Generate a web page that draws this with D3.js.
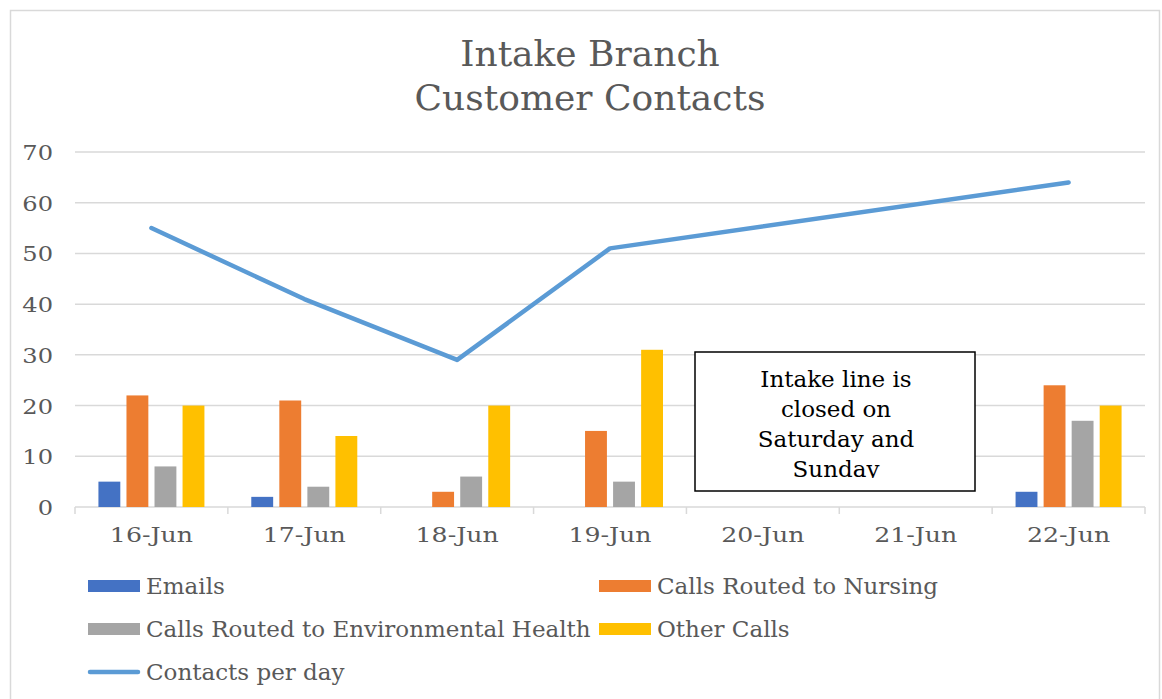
<!DOCTYPE html>
<html><head><meta charset="utf-8">
<script src="https://cdn.jsdelivr.net/npm/d3@7"></script>
<style>body{margin:0;background:#fff}svg{display:block}</style>
</head><body>
<svg id="chart" width="1162" height="699"></svg>
<script>
const categories = ["16-Jun","17-Jun","18-Jun","19-Jun","20-Jun","21-Jun","22-Jun"];
const seriesNames = ["Emails","Calls Routed to Nursing","Calls Routed to Environmental Health","Other Calls"];
const emails =   [5, 2, 0, 0, null, null, 3];
const nursing =  [22, 21, 3, 15, null, null, 24];
const envHealth = [8, 4, 6, 5, null, null, 17];
const otherCalls = [20, 14, 20, 31, null, null, 20];
const contactsPerDay = [55, 41, 29, 51, null, null, 64];
const yTicks = [0,10,20,30,40,50,60,70];
const colors = ["#4472C4","#ED7D31","#A5A5A5","#FFC000"];
const lineColor = "#5B9BD5";
const titleLines = ["Intake Branch","Customer Contacts"];
const noteLines = ["Intake line is","closed on","Saturday and","Sunday"];

const font = "'DejaVu Serif', serif";
const txt = "#595959";
const svg = d3.select("#chart");

// outer border
svg.append("rect").attr("x",10.5).attr("y",10.5).attr("width",1149).attr("height",700)
  .attr("fill","#fff").attr("stroke","#d9d9d9").attr("stroke-width",1.5);

// title
svg.append("g").selectAll("text").data(titleLines).join("text")
  .attr("x",590).attr("y",(d,i)=>66+i*44).attr("text-anchor","middle")
  .attr("font-family",font).attr("font-size",36).attr("fill",txt).text(d=>d);

const pLeft=75, pRight=1145, pTop=152, pBottom=507;
const x = d3.scaleBand().domain(categories).range([pLeft,pRight]);
const y = d3.scaleLinear().domain([0,70]).range([pBottom,pTop]);
const inner = d3.scaleBand().domain(seriesNames).range([-53,53]).paddingInner(0.22);

// gridlines
svg.append("g").selectAll("line").data(yTicks.filter(t=>t>0)).join("line")
  .attr("x1",pLeft).attr("x2",pRight).attr("y1",d=>y(d)).attr("y2",d=>y(d))
  .attr("stroke","#d9d9d9").attr("stroke-width",1.5);

// y labels
svg.append("g").selectAll("text").data(yTicks).join("text")
  .attr("transform",d=>`translate(53,${y(d)+8}) scale(1.15,1)`).attr("text-anchor","end")
  .attr("font-family",font).attr("font-size",21).attr("fill",txt).text(d=>d);

// x axis
const xAxis = d3.axisBottom(x).tickSize(0).tickPadding(20);
const gx = svg.append("g").attr("transform",`translate(0,${pBottom})`).call(xAxis);
gx.select(".domain").remove();
gx.selectAll("text").attr("font-family",font).attr("font-size",21).attr("fill",txt)
  .attr("transform","scale(1.2,1)");
svg.append("line").attr("x1",pLeft).attr("x2",pRight).attr("y1",pBottom).attr("y2",pBottom)
  .attr("stroke","#d9d9d9").attr("stroke-width",1.5);
const bounds = categories.map(c=>x(c)).concat([pRight]);
svg.append("g").selectAll("line").data(bounds).join("line")
  .attr("x1",d=>d).attr("x2",d=>d).attr("y1",pBottom).attr("y2",pBottom+7)
  .attr("stroke","#d9d9d9").attr("stroke-width",1.5);

// bars
const seriesData = [emails, nursing, envHealth, otherCalls];
seriesData.forEach((vals,si)=>{
  svg.append("g").selectAll("rect")
    .data(vals.map((v,i)=>({c:categories[i],v})).filter(d=>d.v!=null && d.v>0))
    .join("rect")
    .attr("x",d=>x(d.c)+x.bandwidth()/2+inner(seriesNames[si]))
    .attr("width",inner.bandwidth())
    .attr("y",d=>y(d.v)).attr("height",d=>y(0)-y(d.v))
    .attr("fill",colors[si]);
});

// line
const lineData = contactsPerDay.map((v,i)=>({c:categories[i],v})).filter(d=>d.v!=null);
svg.append("path").datum(lineData)
  .attr("d",d3.line().x(d=>x(d.c)+x.bandwidth()/2).y(d=>y(d.v)))
  .attr("fill","none").attr("stroke",lineColor).attr("stroke-width",4.5)
  .attr("stroke-linecap","round").attr("stroke-linejoin","round");

// note box
svg.append("defs").append("clipPath").attr("id","noteclip")
  .append("rect").attr("x",695).attr("y",352).attr("width",280).attr("height",126);
svg.append("rect").attr("x",695).attr("y",352).attr("width",280).attr("height",139)
  .attr("fill","#fff").attr("stroke","#000").attr("stroke-width",1.5);
svg.append("g").attr("clip-path","url(#noteclip)").selectAll("text").data(noteLines).join("text")
  .attr("x",836).attr("y",(d,i)=>387+i*30).attr("text-anchor","middle")
  .attr("font-family",font).attr("font-size",23).attr("fill","#000").text(d=>d);

// legend
const legendItems = [
  {name:seriesNames[0],color:colors[0],type:"bar",x:88,y:586},
  {name:seriesNames[1],color:colors[1],type:"bar",x:599,y:586},
  {name:seriesNames[2],color:colors[2],type:"bar",x:88,y:629},
  {name:seriesNames[3],color:colors[3],type:"bar",x:599,y:629},
  {name:"Contacts per day",color:lineColor,type:"line",x:88,y:672}
];
const lg = svg.append("g").selectAll("g").data(legendItems).join("g")
  .attr("transform",d=>`translate(${d.x},${d.y})`);
lg.filter(d=>d.type==="bar").append("rect").attr("x",0).attr("y",-6).attr("width",52).attr("height",12)
  .attr("fill",d=>d.color);
lg.filter(d=>d.type==="line").append("line").attr("x1",2).attr("x2",50).attr("y1",0).attr("y2",0)
  .attr("stroke",d=>d.color).attr("stroke-width",4.5).attr("stroke-linecap","round");
lg.append("text").attr("x",58).attr("y",8).attr("font-family",font).attr("font-size",23)
  .attr("fill",txt).text(d=>d.name);
</script>
</body></html>
